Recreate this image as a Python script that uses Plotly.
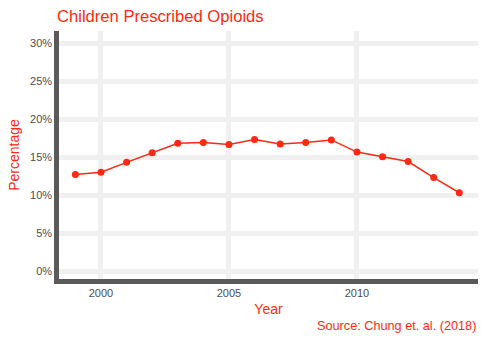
import plotly.graph_objects as go

years = list(range(1999, 2015))
percent = [12.7, 13.0, 14.3, 15.55, 16.8, 16.9, 16.65, 17.3, 16.7, 16.9, 17.25, 15.65, 15.05, 14.4, 12.3, 10.3]
y_ticks = [0, 5, 10, 15, 20, 25, 30]
y_labels = [f"{v}%" for v in y_ticks]
x_ticks = [2000, 2005, 2010]

RED = "#fc2914"
FONT = "Liberation Sans, Arial, sans-serif"

L, R, T, B = 59, 7, 31, 61
PH = 340 - T - B

fig = go.Figure()
fig.add_trace(go.Scatter(
    x=years, y=percent, mode="lines+markers",
    line=dict(color=RED, width=1.5),
    marker=dict(color=RED, size=7),
    showlegend=False,
))

fig.update_layout(
    width=485, height=340,
    margin=dict(l=L, r=R, t=T, b=B),
    paper_bgcolor="white", plot_bgcolor="white",
    font=dict(family=FONT, size=11, color="#4d4d4d"),
    title=dict(text="Children Prescribed Opioids", x=57/485, xanchor="left",
               y=1 - 16/340, yanchor="middle",
               font=dict(size=16.6, color=RED, family=FONT)),
    xaxis=dict(
        range=[1998.36, 2014.73], tickvals=x_ticks, ticktext=[str(v) for v in x_ticks],
        showgrid=True, gridcolor="#f0f0f0", gridwidth=5,
        showline=True, linecolor="#5a5a5a", linewidth=4.5,
        ticks="", zeroline=False,
        title=dict(text="Year", font=dict(size=14, color=RED), standoff=8),
        tickfont=dict(size=11, color="#4d4d4d"),
    ),
    yaxis=dict(
        range=[-1.05, 31.58], tickvals=y_ticks, ticktext=y_labels,
        showgrid=True, gridcolor="#f0f0f0", gridwidth=5,
        showline=True, linecolor="#5a5a5a", linewidth=4.5,
        ticks="", zeroline=False,
        title=dict(text="Percentage", font=dict(size=14, color=RED), standoff=9),
        tickfont=dict(size=11, color="#4d4d4d"),
    ),
    annotations=[dict(
        text="Source: Chung et. al. (2018)", xref="paper", yref="paper",
        x=1.0, y=-(326 - (340 - B)) / PH, xanchor="right", yanchor="middle", showarrow=False,
        font=dict(size=12.7, color=RED, family=FONT),
    )],
)

fig.write_html("out.html")
